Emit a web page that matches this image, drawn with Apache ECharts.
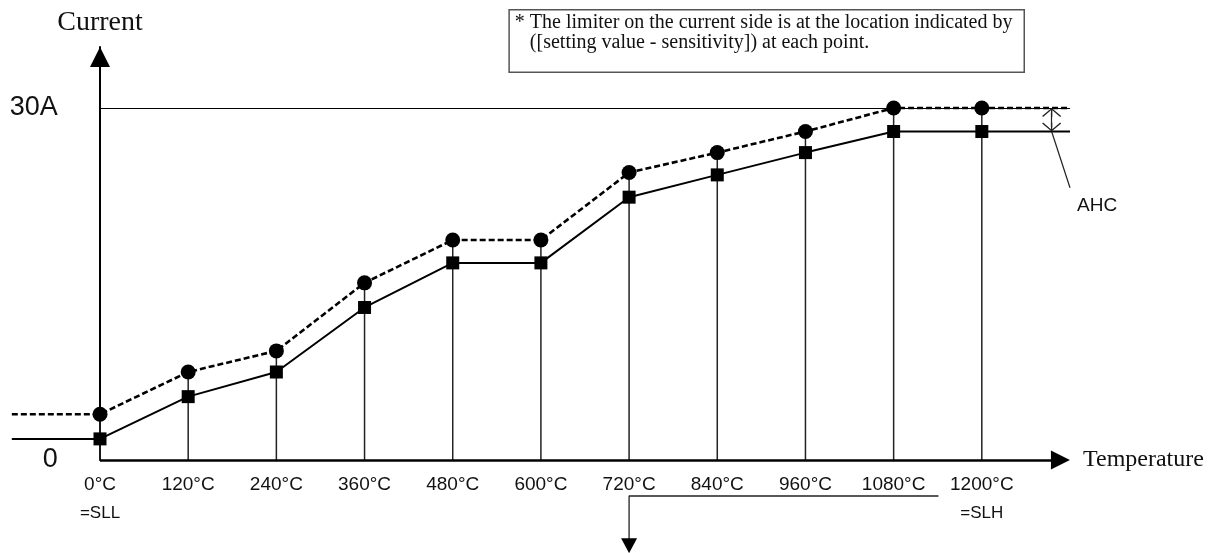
<!DOCTYPE html>
<html>
<head>
<meta charset="utf-8">
<script src="https://cdn.jsdelivr.net/npm/echarts@6/dist/echarts.min.js"></script>
<style>
html,body{margin:0;padding:0;background:#fff;}
#chart{width:1222px;height:553px;}
</style>
</head>
<body>
<div id="chart"></div>
<script>
// ---- data ----
const temps = [0, 120, 240, 360, 480, 600, 720, 840, 960, 1080, 1200];
const tickLabels = ['0°C', '120°C', '240°C', '360°C', '480°C', '600°C', '720°C', '840°C', '960°C', '1080°C', '1200°C'];
const tickSubLabels = {0: '=SLL', 1200: '=SLH'};
const setValues = [3.9, 7.5, 9.3, 15.1, 18.75, 18.75, 24.5, 26.2, 28.0, 30.0, 30.0];
const limitValues = [1.8, 5.4, 7.5, 13.0, 16.8, 16.8, 22.4, 24.3, 26.2, 28.0, 28.0];
const edgeX = [-120, 1320];
const axisEndX = 1307;
const ratedCurrent = 30;
const ahcX = 1295;
const ahcArrowY = [29.62, 28.38];
const ahcLeaderEnd = [1320, 23.2];
const ahcLabelPos = [1320, 21.7];
const bracketX = [1141, 720, 720];
const bracketY = [-3.07, -3.07, -7.3];
const noteText = '* The limiter on the current side is at the location indicated by\n   ([setting value - sensitivity]) at each point.';

function withEdges(vals) {
  const d = [{value: [edgeX[0], vals[0]], symbol: 'none'}];
  temps.forEach((t, i) => d.push([t, vals[i]]));
  d.push({value: [edgeX[1], vals[vals.length - 1]], symbol: 'none'});
  return d;
}

const chevron = 'path://M0,0 L10,9 L9,10 L0.7,2.5 L0.7,10 L-0.7,10 L-0.7,2.5 L-9,10 L-10,9 Z';
const sans = "'Liberation Sans', Arial, Helvetica, sans-serif";
const serif = "'Liberation Serif', 'Times New Roman', serif";

const chart = echarts.init(document.getElementById('chart'), null, {renderer: 'canvas'});
chart.setOption({
  animation: false,
  backgroundColor: '#fff',
  grid: {left: 11.82, top: 47, width: 1058.18, height: 413, containLabel: false, outerBoundsMode: 'none'},
  graphic: [{
    type: 'text', right: 197, top: 9, z: 10,
    style: {
      text: noteText, font: "20px 'Liberation Serif', 'Times New Roman', serif",
      lineHeight: 20, fill: '#111',
      backgroundColor: '#fff', borderColor: '#555', borderWidth: 1.5,
      padding: [2, 11, 19, 5]
    }
  }],
  xAxis: {
    type: 'value', min: -120, max: 1320, interval: 120,
    name: 'Temperature', nameLocation: 'end', nameGap: 13,
    nameTextStyle: {fontFamily: serif, fontSize: 24, color: '#111', align: 'left', verticalAlign: 'middle'},
    axisLine: {show: false},
    axisTick: {show: false},
    splitLine: {show: false},
    axisLabel: {
      margin: 12, color: '#111', fontFamily: sans,
      formatter: function (v) {
        const i = temps.indexOf(v);
        if (i < 0) return '';
        let s = '{a|' + tickLabels[i] + '}';
        if (tickSubLabels[v]) s += '\n{b|' + tickSubLabels[v] + '}';
        return s;
      },
      rich: {
        a: {fontFamily: sans, fontSize: 19, lineHeight: 26, color: '#111'},
        b: {fontFamily: sans, fontSize: 17, lineHeight: 30, color: '#111'}
      }
    }
  },
  yAxis: {
    type: 'value', min: 0, max: 35.2, interval: 30,
    name: 'Current', nameLocation: 'end', nameGap: 10,
    nameTextStyle: {fontFamily: serif, fontSize: 28, color: '#111'},
    axisLine: {show: true, onZero: true, lineStyle: {color: '#000', width: 2},
      symbol: ['none', 'triangle'], symbolSize: [20, 20], symbolOffset: [0, -10]},
    axisTick: {show: false},
    splitLine: {show: false},
    axisLabel: {
      margin: -46, color: '#111', fontFamily: sans, fontSize: 27, align: 'right',
      formatter: function (v) { return v === 0 ? '0' : (v === ratedCurrent ? ratedCurrent + 'A' : ''); }
    }
  },
  series: [
    {
      name: 'drop', type: 'bar', barWidth: 1.5, silent: true, z: 1,
      itemStyle: {color: '#222'},
      data: temps.map((t, i) => [t, setValues[i]])
    },
    {
      name: 'Setting value', type: 'line', clip: false, z: 3,
      symbol: 'circle', symbolSize: 15, showAllSymbol: true,
      lineStyle: {color: '#000', width: 2.6, type: [6, 3]},
      itemStyle: {color: '#000'},
      data: withEdges(setValues),
      markLine: {
        silent: true, animation: false,
        label: {show: false},
        data: [
          [{coord: [0, ratedCurrent], symbol: 'none', lineStyle: {color: '#000', width: 1, type: 'solid'}},
           {coord: [edgeX[1], ratedCurrent], symbol: 'none'}],
          [{coord: [0, 0], symbol: 'none', lineStyle: {color: '#000', width: 2.5, type: 'solid'}},
           {coord: [axisEndX, 0], symbol: 'triangle', symbolSize: [19, 19]}]
        ]
      }
    },
    {
      name: 'Limiter', type: 'line', clip: false, z: 3,
      symbol: 'rect', symbolSize: 13, showAllSymbol: true,
      lineStyle: {color: '#000', width: 2, type: 'solid'},
      itemStyle: {color: '#000'},
      data: withEdges(limitValues),
      markLine: {
        silent: true, animation: false,
        label: {show: false},
        data: [
          [{coord: [ahcX, ahcArrowY[0]], symbol: chevron, symbolSize: [19, 9],
            lineStyle: {color: '#222', width: 1.2, type: 'solid'}},
           {coord: [ahcX, ahcArrowY[1]], symbol: chevron, symbolSize: [19, 9]}],
          [{coord: [ahcX, limitValues[limitValues.length - 1]], symbol: 'none',
            lineStyle: {color: '#222', width: 1.2, type: 'solid'}},
           {coord: ahcLeaderEnd, symbol: 'none'}]
        ]
      },
      markPoint: {
        silent: true, symbol: 'circle', symbolSize: 0, animation: false,
        label: {show: true, position: 'right', distance: 7, formatter: 'AHC',
          fontFamily: sans, fontSize: 19, color: '#111'},
        data: [{coord: ahcLabelPos}]
      }
    },
    {
      name: 'bracket', type: 'line', clip: false, z: 2, silent: true,
      symbol: 'none',
      lineStyle: {color: '#222', width: 1.3},
      itemStyle: {color: '#000'},
      data: bracketX.map((x, i) => i === bracketX.length - 1
        ? {value: [x, bracketY[i]], symbol: 'triangle', symbolSize: [16, 15], symbolRotate: 180}
        : [x, bracketY[i]])
    }
  ]
});
</script>
</body>
</html>
